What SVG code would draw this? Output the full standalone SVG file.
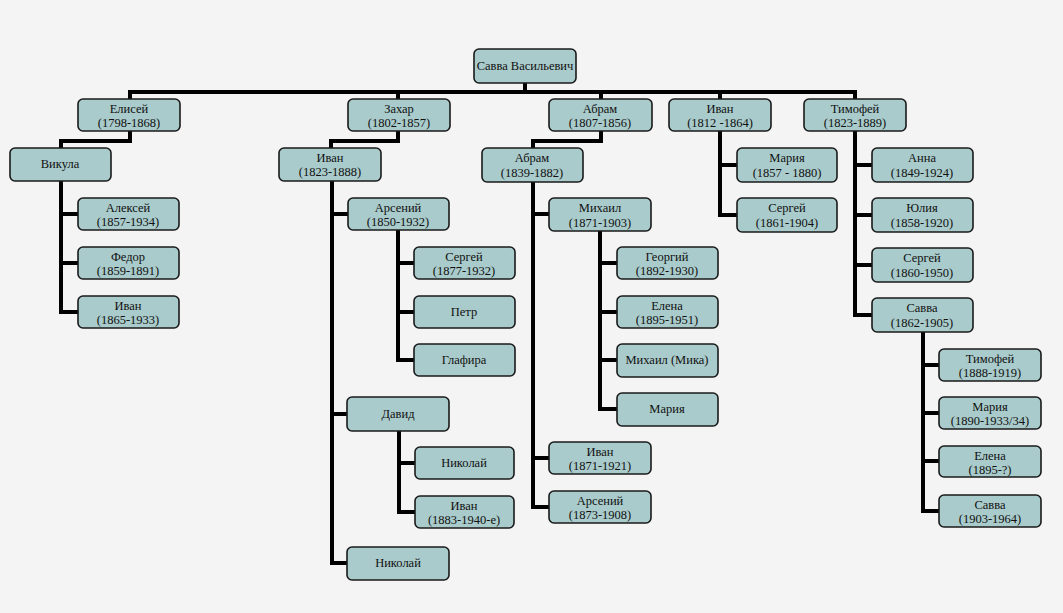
<svg xmlns="http://www.w3.org/2000/svg" width="1063" height="613" viewBox="0 0 1063 613">
<style>
.bg{fill:#f4f4f4}
.box{fill:#a9cbcb;stroke:#1a1a1a;stroke-width:1.6}
text{font-family:'Liberation Serif','Times New Roman',Times,serif;font-size:12.5px;fill:#111;text-anchor:middle}
.ln{fill:none;stroke:#000;stroke-width:4;stroke-linejoin:miter;stroke-linecap:butt}
</style>
<rect class="bg" x="0" y="0" width="1063" height="613"/>
<g id="connectors">
<path class="ln" d="M525,83 V92 M130,100 V92 H855 V100 M398,92 V100 M601,92 V100 M720,92 V100"/>
<path class="ln" d="M130,131 V141 H61 V148"/>
<path class="ln" d="M61,181 V312 H78 M61,214 H78 M61,263 H78"/>
<path class="ln" d="M398,131 V141 H331 V148"/>
<path class="ln" d="M332,181 V563 H348 M332,214 H348 M332,414 H348"/>
<path class="ln" d="M398,230 V360 H414 M398,263 H414 M398,312 H414"/>
<path class="ln" d="M399,431 V512 H415 M399,463 H415"/>
<path class="ln" d="M601,131 V141 H533 V148"/>
<path class="ln" d="M533,182 V507 H549 M533,214 H549 M533,458 H549"/>
<path class="ln" d="M600,231 V409 H617 M600,263 H617 M600,312 H617 M600,360 H617"/>
<path class="ln" d="M720,131 V215 H737 M720,165 H737"/>
<path class="ln" d="M855,131 V315 H872 M855,165 H872 M855,215 H872 M855,265 H872"/>
<path class="ln" d="M923,332 V511 H939 M923,365 H939 M923,413 H939 M923,461 H939"/>
</g>
<g font-family="Liberation Serif, serif">
<g id="n_savva_v"><rect class="box" x="474" y="49" width="102" height="34" rx="5"/><text x="525" y="70">Савва Васильевич</text></g>
<g id="n_elisey"><rect class="box" x="78" y="99" width="102" height="32" rx="5"/><text x="129" y="113">Елисей</text><text x="129" y="127">(1798-1868)</text></g>
<g id="n_zahar"><rect class="box" x="348" y="99" width="102" height="32" rx="5"/><text x="399" y="113">Захар</text><text x="399" y="127">(1802-1857)</text></g>
<g id="n_abram1"><rect class="box" x="549" y="99" width="103" height="32" rx="5"/><text x="600" y="113">Абрам</text><text x="600" y="127">(1807-1856)</text></g>
<g id="n_ivan1"><rect class="box" x="669" y="99" width="102" height="32" rx="5"/><text x="720" y="113">Иван</text><text x="720" y="127">(1812 -1864)</text></g>
<g id="n_timofey1"><rect class="box" x="804" y="99" width="102" height="32" rx="5"/><text x="855" y="113">Тимофей</text><text x="855" y="127">(1823-1889)</text></g>

<g id="n_vikula"><rect class="box" x="10" y="148" width="101" height="33" rx="5"/><text x="60" y="168">Викула</text></g>
<g id="n_aleksey"><rect class="box" x="78" y="198" width="101" height="32" rx="5"/><text x="128" y="212">Алексей</text><text x="128" y="226">(1857-1934)</text></g>
<g id="n_fedor"><rect class="box" x="78" y="247" width="101" height="32" rx="5"/><text x="128" y="261">Федор</text><text x="128" y="275">(1859-1891)</text></g>
<g id="n_ivan_v"><rect class="box" x="78" y="296" width="101" height="32" rx="5"/><text x="128" y="310">Иван</text><text x="128" y="324">(1865-1933)</text></g>

<g id="n_ivan2"><rect class="box" x="279" y="148" width="102" height="33" rx="5"/><text x="330" y="162">Иван</text><text x="330" y="176">(1823-1888)</text></g>
<g id="n_arseniy1"><rect class="box" x="348" y="198" width="101" height="32" rx="5"/><text x="398" y="212">Арсений</text><text x="398" y="226">(1850-1932)</text></g>
<g id="n_sergey1"><rect class="box" x="414" y="247" width="101" height="32" rx="5"/><text x="464" y="261">Сергей</text><text x="464" y="275">(1877-1932)</text></g>
<g id="n_petr"><rect class="box" x="414" y="296" width="101" height="32" rx="5"/><text x="464" y="316">Петр</text></g>
<g id="n_glafira"><rect class="box" x="414" y="344" width="101" height="32" rx="5"/><text x="464" y="364">Глафира</text></g>
<g id="n_david"><rect class="box" x="347" y="397" width="102" height="34" rx="5"/><text x="398" y="418">Давид</text></g>
<g id="n_nikolay1"><rect class="box" x="415" y="447" width="99" height="32" rx="5"/><text x="464" y="467">Николай</text></g>
<g id="n_ivan3"><rect class="box" x="415" y="496" width="99" height="32" rx="5"/><text x="464" y="510">Иван</text><text x="464" y="524">(1883-1940-е)</text></g>
<g id="n_nikolay2"><rect class="box" x="347" y="547" width="102" height="33" rx="5"/><text x="398" y="567">Николай</text></g>

<g id="n_abram2"><rect class="box" x="482" y="148" width="101" height="34" rx="5"/><text x="532" y="162">Абрам</text><text x="532" y="177">(1839-1882)</text></g>
<g id="n_mihail1"><rect class="box" x="549" y="198" width="102" height="33" rx="5"/><text x="600" y="212">Михаил</text><text x="600" y="227">(1871-1903)</text></g>
<g id="n_georgiy"><rect class="box" x="617" y="247" width="101" height="32" rx="5"/><text x="667" y="261">Георгий</text><text x="667" y="275">(1892-1930)</text></g>
<g id="n_elena1"><rect class="box" x="617" y="296" width="101" height="32" rx="5"/><text x="667" y="310">Елена</text><text x="667" y="324">(1895-1951)</text></g>
<g id="n_mika"><rect class="box" x="617" y="344" width="101" height="33" rx="5"/><text x="667" y="364">Михаил (Мика)</text></g>
<g id="n_maria1"><rect class="box" x="617" y="393" width="101" height="33" rx="5"/><text x="667" y="413">Мария</text></g>
<g id="n_ivan4"><rect class="box" x="549" y="442" width="102" height="32" rx="5"/><text x="600" y="456">Иван</text><text x="600" y="470">(1871-1921)</text></g>
<g id="n_arseniy2"><rect class="box" x="549" y="491" width="102" height="32" rx="5"/><text x="600" y="505">Арсений</text><text x="600" y="519">(1873-1908)</text></g>

<g id="n_maria2"><rect class="box" x="737" y="148" width="100" height="34" rx="5"/><text x="787" y="162">Мария</text><text x="787" y="177">(1857 - 1880)</text></g>
<g id="n_sergey2"><rect class="box" x="737" y="198" width="100" height="34" rx="5"/><text x="787" y="212">Сергей</text><text x="787" y="227">(1861-1904)</text></g>

<g id="n_anna"><rect class="box" x="872" y="148" width="101" height="34" rx="5"/><text x="922" y="162">Анна</text><text x="922" y="177">(1849-1924)</text></g>
<g id="n_yulia"><rect class="box" x="872" y="198" width="101" height="34" rx="5"/><text x="922" y="212">Юлия</text><text x="922" y="227">(1858-1920)</text></g>
<g id="n_sergey3"><rect class="box" x="872" y="248" width="101" height="34" rx="5"/><text x="922" y="262">Сергей</text><text x="922" y="277">(1860-1950)</text></g>
<g id="n_savva2"><rect class="box" x="872" y="298" width="101" height="34" rx="5"/><text x="922" y="312">Савва</text><text x="922" y="327">(1862-1905)</text></g>

<g id="n_timofey2"><rect class="box" x="939" y="349" width="102" height="32" rx="5"/><text x="990" y="363">Тимофей</text><text x="990" y="377">(1888-1919)</text></g>
<g id="n_maria3"><rect class="box" x="939" y="397" width="102" height="32" rx="5"/><text x="990" y="411">Мария</text><text x="990" y="425">(1890-1933/34)</text></g>
<g id="n_elena2"><rect class="box" x="939" y="446" width="102" height="31" rx="5"/><text x="990" y="460">Елена</text><text x="990" y="474">(1895-?)</text></g>
<g id="n_savva3"><rect class="box" x="939" y="495" width="102" height="32" rx="5"/><text x="990" y="509">Савва</text><text x="990" y="523">(1903-1964)</text></g>
</g>
</svg>
